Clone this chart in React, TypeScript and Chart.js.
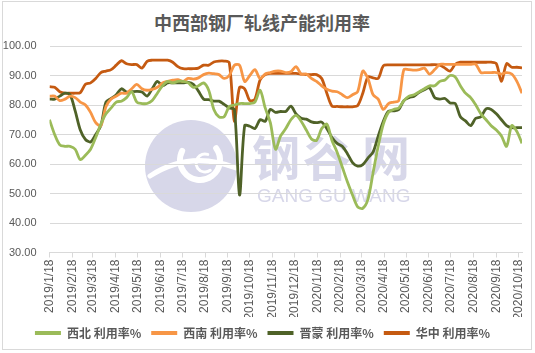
import React, { useEffect, useRef } from 'react';
import { Chart, registerables } from 'chart.js';

Chart.register(...registerables);

const chartTitle = '中西部钢厂轧线产能利用率';
const firstWeek = '2019/1/18';
const seriesNames = ['西北 利用率%', '西南 利用率%', '晋蒙 利用率%', '华中 利用率%'];
const seriesColors = ['#9BBB59', '#F79646', '#4F6228', '#C55A11'];

const xiBei = [
  75, 70, 66.5, 66, 66, 65, 61.5, 63, 65, 69,
  73.5, 77, 79, 81, 81.3, 82.5, 84.5, 81, 80.5, 80.5,
  81.5, 84, 86.5, 88, 87.5, 88, 88, 87.5, 86, 86.5,
  87.5, 85, 78.5, 76, 76, 79.5, 80, 80.5, 80.5, 80.5,
  81, 85, 79, 74, 65, 69.5, 72, 75, 76.5, 74.5,
  71.5, 68.5, 68, 72, 73.5, 68, 64, 59, 54, 49.5,
  45.5, 45, 48, 57, 66, 73.5, 77.5, 78.5, 79, 81.5,
  83, 83.5, 84.5, 85.5, 86.5, 86.5, 88, 88.5, 90, 89.5,
  86.5, 84, 82.5, 80, 77, 75, 73, 71.5, 69.5, 66,
  73, 71, 67,
];

const xiNan = [
  83, 83, 81.5, 82, 83, 82.5, 81, 80, 77.5, 74,
  73, 79.5, 82, 83, 84, 84, 85.5, 87, 85.5, 85,
  85.3, 86, 87.5, 88, 88.4, 88.6, 88, 89, 88.8, 89.2,
  90.3, 90.8, 90.6, 90.3, 89, 90, 93.5, 93.5, 88, 90,
  92, 89, 90.5, 91, 91.5, 91.5, 91, 91.3, 93, 90.5,
  90.5, 89, 88, 86.5, 85.3, 84.7, 84.5, 83.5, 82.5, 83.5,
  84.5, 91.5, 89, 83.5, 82, 78.5, 80.5, 81, 81.5, 92,
  92, 91.8, 92, 92.5, 90.5, 92, 93.8, 93.8, 93.8, 93.8,
  93.8, 93.8, 93.8, 93.8, 91, 91, 91, 91, 90.5, 91,
  90.5, 88, 84,
];

const jinMeng = [
  82, 82, 83, 84, 83.5, 78, 71.5, 68.3, 67.5, 70,
  73, 81, 82.2, 83.5, 85.5, 84.4, 84.5, 84.6, 84.4, 83,
  85.5, 88, 86.5, 87.5, 87.5, 87.5, 87.5, 87.7, 87, 84.7,
  82, 81.8, 81.3, 81.3, 80.2, 79, 78.5, 49.5, 73, 72.8,
  72, 75, 74.5, 78.5, 77.5, 77.8, 77.8, 79.6, 77, 75.5,
  75.2, 74.3, 74, 74.2, 72, 69, 67, 66, 63.5, 60.5,
  59.3, 59.8, 62, 64, 69.4, 74.5, 77.9, 78, 78.5, 81.5,
  82.5, 83, 84.3, 85.2, 85.8, 82.5, 82, 82.2, 80.7, 80.5,
  76, 74.6, 73, 75.5, 76, 78.7, 78.5, 77, 75, 73,
  72.3, 72.3, 72.3,
];

const huaZhong = [
  86.2, 86, 84.5, 84, 84, 84, 84.2, 87, 87.5, 89,
  91, 91.5, 92, 93.5, 95, 94, 93.7, 93.7, 92.5, 94.8,
  95.2, 95.2, 95.2, 95.2, 94.5, 93, 92.3, 92.3, 92.3, 92.5,
  93.5, 93.5, 94.6, 94.9, 94.9, 94.3, 74.5, 86, 85.5, 81.5,
  82, 88.5, 90.3, 90.7, 90.7, 90.7, 90.7, 90.7, 90.7, 90.5,
  90.3, 90.3, 90.3, 89, 84, 79.6, 79.5, 79.4, 79.4, 79.4,
  79.8, 84, 89.5, 89.2, 89, 93.3, 93.6, 93.6, 93.6, 93.6,
  93.6, 93.6, 93.6, 93.6, 93.6, 93.7, 93.5, 92.5, 91.5, 93.8,
  94.5, 94.5, 94.5, 94.5, 94.5, 94.5, 94.5, 94, 88, 94,
  92.8, 92.8, 92.6,
];

const xTickLabels = [
  '2019/1/18', '2019/2/18', '2019/3/18', '2019/4/18', '2019/5/18', '2019/6/18',
  '2019/7/18', '2019/8/18', '2019/9/18', '2019/10/18', '2019/11/18', '2019/12/18',
  '2020/1/18', '2020/2/18', '2020/3/18', '2020/4/18', '2020/5/18', '2020/6/18',
  '2020/7/18', '2020/8/18', '2020/9/18', '2020/10/18',
];

const yMin = 30;
const yMax = 100;
const yStep = 10;

function dayOf(label: string): number {
  const [y, m, d] = label.split('/').map(Number);
  const [y0, m0, d0] = firstWeek.split('/').map(Number);
  return Math.round((Date.UTC(y, m - 1, d) - Date.UTC(y0, m0 - 1, d0)) / 86400000);
}

const allSeries = [xiBei, xiNan, jinMeng, huaZhong];

const watermarkPlugin = {
  id: 'watermark',
  beforeDraw(chart: any) {
    const ctx = chart.ctx as CanvasRenderingContext2D;
    ctx.save();
    const c = '#D7D7E9';
    ctx.fillStyle = c;
    ctx.beginPath();
    ctx.arc(191, 166, 46, 0, Math.PI * 2);
    ctx.fill();
    ctx.strokeStyle = '#ffffff';
    ctx.lineCap = 'round';
    ctx.lineWidth = 6;
    ctx.beginPath();
    ctx.arc(200, 160, 20, -0.2 * Math.PI, 1.15 * Math.PI);
    ctx.stroke();
    ctx.lineWidth = 5;
    ctx.beginPath();
    ctx.moveTo(150, 176);
    ctx.quadraticCurveTo(190, 150, 236, 168);
    ctx.stroke();
    ctx.lineWidth = 3;
    ctx.beginPath();
    ctx.arc(205, 163, 9, 0.3 * Math.PI, 1.6 * Math.PI);
    ctx.stroke();
    ctx.fillStyle = c;
    ctx.textBaseline = 'middle';
    ctx.textAlign = 'left';
    ctx.font = 'bold 48px "Noto Sans CJK SC"';
    const chars = ['钢', '谷', '网'];
    const xs = [252, 303, 362];
    chars.forEach((ch, i) => ctx.fillText(ch, xs[i], 158));
    ctx.font = '19px "Liberation Sans"';
    ctx.fillText('GANG GU WANG', 257, 197);
    ctx.restore();
  },
};

export default function App() {
  const ref = useRef<HTMLCanvasElement>(null);

  useEffect(() => {
    const tickDays = xTickLabels.map(dayOf);
    const lastDay = (xiBei.length - 1) * 7;
    const datasets = allSeries.map((vals, si) => ({
      label: seriesNames[si],
      data: vals.map((v, i) => ({ x: i * 7, y: v })),
      borderColor: seriesColors[si],
      backgroundColor: seriesColors[si],
      borderWidth: 2.8,
      pointRadius: 0,
      tension: 0.3,
      fill: false,
    }));

    const chart = new Chart(ref.current as HTMLCanvasElement, {
      type: 'line',
      data: { datasets },
      plugins: [watermarkPlugin],
      options: {
        responsive: false,
        animation: false,
        devicePixelRatio: 1,
        layout: { padding: { left: 3, right: 13, top: 46, bottom: 4 } },
        plugins: {
          title: { display: false },
          tooltip: { enabled: false },
          legend: {
            position: 'bottom',
            labels: {
              boxWidth: 26,
              boxHeight: 4,
              padding: 10,
              color: '#595959',
              font: { family: '"Noto Sans CJK SC"', size: 12, weight: 'bold' },
              generateLabels: (ch: any) =>
                (Chart.defaults.plugins.legend.labels as any)
                  .generateLabels(ch)
                  .map((l: any) => ({ ...l, lineWidth: 0 })),
            },
          },
        },
        scales: {
          x: {
            type: 'linear',
            min: 0,
            max: lastDay,
            afterBuildTicks: (axis: any) => {
              axis.ticks = tickDays.map((d) => ({ value: d }));
            },
            afterFit: (axis: any) => {
              axis.height = 64.5;
              axis.paddingLeft = 0;
              axis.paddingRight = 0;
            },
            ticks: {
              autoSkip: false,
              maxRotation: 90,
              minRotation: 90,
              padding: 2,
              color: '#595959',
              font: { family: '"Liberation Sans"', size: 12 },
              callback: (v: any) => {
                const idx = tickDays.indexOf(Number(v));
                return idx >= 0 ? xTickLabels[idx] : '';
              },
            },
            grid: {
              display: true,
              drawOnChartArea: false,
              drawTicks: true,
              tickLength: 5,
              color: '#d9d9d9',
            },
            border: { display: true, color: '#d9d9d9' },
          },
          y: {
            min: yMin,
            max: yMax,
            afterFit: (axis: any) => {
              axis.width = 46.5;
            },
            ticks: {
              stepSize: yStep,
              padding: 13,
              color: '#595959',
              font: { family: '"Liberation Sans"', size: 11 },
              callback: (v: any) => Number(v).toFixed(2),
            },
            grid: { color: '#d9d9d9', drawTicks: false },
            border: { display: false },
          },
        },
      } as any,
    });
    return () => chart.destroy();
  }, []);

  return (
    <div style={{ position: 'absolute', left: 0, top: 0, width: 535, height: 353, background: '#ffffff' }}>
      <div
        style={{
          position: 'absolute',
          left: 2,
          top: 1,
          width: 530,
          height: 349,
          border: '1px solid #d9d9d9',
          boxSizing: 'border-box',
        }}
      />
      <div
        style={{
          position: 'absolute',
          left: 0,
          top: 12,
          width: 524,
          textAlign: 'center',
          font: 'bold 18px "Noto Sans CJK SC"',
          lineHeight: '20px',
          color: '#595959',
        }}
      >
        {chartTitle}
      </div>
      <canvas ref={ref} width={535} height={353} style={{ position: 'absolute', left: 0, top: 0 }} />
    </div>
  );
}
